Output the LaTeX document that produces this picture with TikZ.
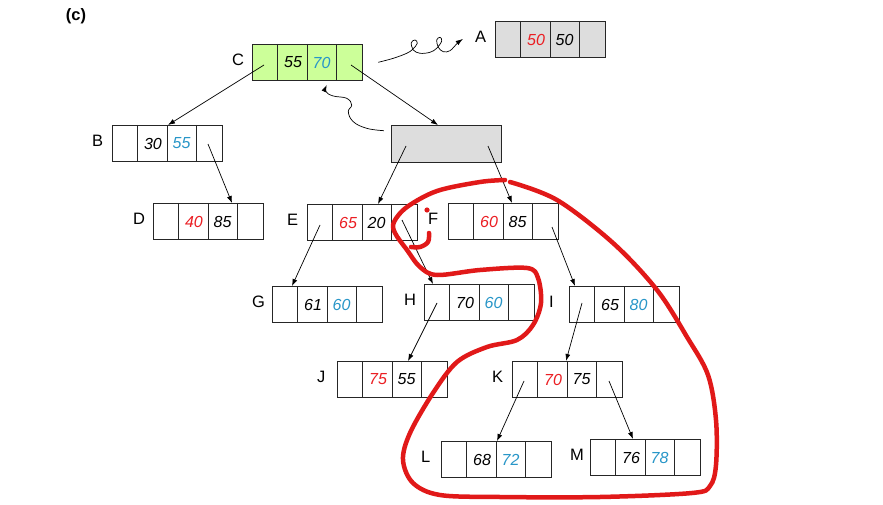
\documentclass[tikz,border=0pt]{standalone}
\usepackage{fontspec}
\setmainfont{Liberation Sans}
\usetikzlibrary{calc,arrows.meta}
\definecolor{kred}{RGB}{235,30,35}
\definecolor{kblue}{RGB}{40,150,200}
\definecolor{pen}{RGB}{225,25,25}
\definecolor{cgreen}{RGB}{204,255,153}
\definecolor{cgray}{RGB}{221,221,221}
\tikzset{
 box/.style={draw=black!85, line width=0.8pt, minimum width=110pt, minimum height=36pt, inner sep=0pt, anchor=north west},
 cell/.style={line width=0.8pt, draw=black!85},
 key/.style={font=\fontsize{16}{18}\selectfont\itshape, inner sep=0pt},
 lbl/.style={font=\fontsize{16.5}{18}\selectfont, inner sep=0pt, anchor=west},
 link/.style={line width=0.7pt, -{Latex[length=7pt,width=5pt]}},
 squiggle/.style={line width=0.7pt, -{Latex[length=7pt,width=5pt]}},
 redpen/.style={draw=pen, line width=4.5pt, line cap=round, line join=round},
}
\newcommand{\bnode}[9]{%
 \node[box, fill=#4] (#1) at (#2,#3) {};
 \draw[cell] ($(#1.north west)+(25,0)$) -- ++(0,36) ($(#1.north west)+(55,0)$) -- ++(0,36) ($(#1.north west)+(84,0)$) -- ++(0,36);
 \node[key, text=#6] (#1-k1) at ($(#1.north west)+(41,18.5)$) {#5};
 \node[key, text=#8] (#1-k2) at ($(#1.north west)+(69.5,18.5)$) {#7};
 \node[lbl] (#1-l) at ($(#1.north west)+(-20,16)$) {#9};
}
\begin{document}
\begin{tikzpicture}[x=1pt,y=-1pt]
\useasboundingbox (0,0) rectangle (883,505);
\node[font=\fontsize{16.5}{18}\selectfont\bfseries, inner sep=0pt] (lab) at (76,16) {(c)};
\bnode{C}{252}{44}{cgreen}{55}{black}{70}{kblue}{C}
\bnode{A}{495}{21}{cgray}{50}{kred}{50}{black}{A}
\bnode{B}{112}{125}{white}{30}{black}{55}{kblue}{B}
\bnode{D}{153}{203}{white}{40}{kred}{85}{black}{D}
\bnode{E}{307}{204}{white}{65}{kred}{20}{black}{E}
\bnode{F}{448}{203}{white}{60}{kred}{85}{black}{F}
\bnode{G}{272}{286}{white}{61}{black}{60}{kblue}{G}
\bnode{H}{424}{284}{white}{70}{black}{60}{kblue}{H}
\bnode{I}{569}{286}{white}{65}{black}{80}{kblue}{I}
\bnode{J}{337}{361}{white}{75}{kred}{55}{black}{J}
\bnode{K}{512}{361}{white}{70}{kred}{75}{black}{K}
\bnode{L}{441}{441}{white}{68}{black}{72}{kblue}{L}
\bnode{M}{590}{439}{white}{76}{black}{78}{kblue}{M}
\node[box, fill=cgray, minimum height=37pt] (X) at (391,125) {};
% tree links
\draw[link] ($(C.north west)+(12,21)$) -- ($(B.north west)+(56,0)$);
\draw[link] ($(C.north west)+(99,21)$) -- ($(X.north west)+(47,0)$);
\draw[link] ($(X.north west)+(15,21)$) -- ($(E.north west)+(71,0)$);
\draw[link] ($(X.north west)+(97,21)$) -- ($(F.north west)+(64,0)$);
\draw[link] ($(B.north west)+(96,19)$) -- ($(D.north west)+(79,0)$);
\draw[link] ($(E.north west)+(13,21)$) -- ($(G.north west)+(20,0)$);
\draw[link] ($(E.north west)+(95,16)$) -- ($(H.north west)+(9,0)$);
\draw[link] ($(F.north west)+(104,24)$) -- ($(I.north west)+(6,0)$);
\draw[link] ($(H.north west)+(13,19)$) -- ($(J.north west)+(71,0)$);
\draw[link] ($(I.north west)+(13,17)$) -- ($(K.north west)+(54,0)$);
\draw[link] ($(K.north west)+(12,20)$) -- ($(L.north west)+(56,0)$);
\draw[link] ($(K.north west)+(97,20)$) -- ($(M.north west)+(43,0)$);
% squiggly arrows
\coordinate (ca0) at (378.3,62.3);
\coordinate (ca1) at (462.7,39);
\draw[squiggle] plot[smooth, tension=0.6] coordinates {(ca0) (393.3,58.3) (406.7,53.3) (412.7,49.3) (417.3,43.3) (415,40) (411.3,42.7) (413.3,50) (420,53.3) (430,52.3) (436.7,48.3) (441.7,41) (440,37.3) (436.7,40) (438.3,47.3) (443.3,51.7) (450,50.7) (457.3,43.3) (ca1)};
\coordinate (xc0) at (383.9,130.7);
\coordinate (xc1) at (326.7,85);
\draw[squiggle] plot[smooth, tension=0.7] coordinates {(xc0) (366.7,128.3) (353.3,121.7) (348.3,111.7) (351.7,105) (346.7,98.3) (333.3,96) (326,91.7) (xc1)};
% red freehand
\draw[redpen] plot[smooth, tension=0.55] coordinates {(510,182) (557,200) (613,243) (657,290) (687,337) (708,375) (716,420) (716,465) (710,486) (692,493) (600,497) (500,497) (440,495) (413,483) (403,460) (410,433) (433,393) (457,362) (487,347) (517,340) (533,325) (541,303) (538,278) (527,268) (480,270) (437,275) (420,267) (407,250) (395,233) (394,222) (407,207) (437,191) (480,182) (505,180)};
\draw[redpen] plot[smooth, tension=0.6] coordinates {(429,233) (428,242) (420,247) (411,247)};
\fill[pen] (427,210) circle (2.6pt);
\end{tikzpicture}
\end{document}
